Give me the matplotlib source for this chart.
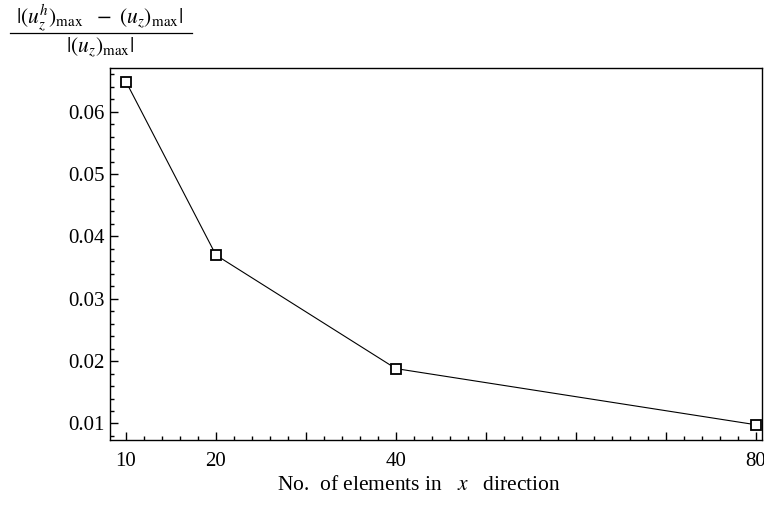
import matplotlib
matplotlib.use("Agg")
import matplotlib.pyplot as plt
from matplotlib.lines import Line2D
from matplotlib.ticker import FixedLocator, MultipleLocator, FuncFormatter

# data
n_elements = [10, 20, 40, 80]
rel_error = [0.0648, 0.0370, 0.0188, 0.0098]
x_labelled = [10, 20, 40, 80]
y_ticks = [0.01, 0.02, 0.03, 0.04, 0.05, 0.06]

plt.rcParams["font.family"] = ["Liberation Serif", "DejaVu Serif"]
plt.rcParams["mathtext.fontset"] = "stix"

fig = plt.figure(figsize=(7.64, 5.15), dpi=100)
ax = fig.add_axes([110 / 764, 1 - 440 / 515, 652 / 764, 372 / 515])

ax.plot(n_elements, rel_error, color="black", lw=0.8,
        marker="s", markersize=6.8, markerfacecolor="white",
        markeredgecolor="black", markeredgewidth=1.3)

ax.set_xlim(8.22, 80.7)
ax.set_ylim(0.00735, 0.0670)

ax.xaxis.set_major_locator(FixedLocator(list(range(10, 81, 10))))
ax.xaxis.set_major_formatter(
    FuncFormatter(lambda v, p: f"{int(round(v))}" if int(round(v)) in x_labelled else ""))
ax.xaxis.set_minor_locator(MultipleLocator(2))
ax.yaxis.set_major_locator(FixedLocator(y_ticks))
ax.yaxis.set_major_formatter(FuncFormatter(lambda v, p: f"{v:.2f}"))
ax.yaxis.set_minor_locator(MultipleLocator(0.002))

ax.tick_params(which="both", direction="in", top=False, right=False,
               labelsize=15, width=1.0)
ax.tick_params(which="major", length=6)
ax.tick_params(which="minor", length=3)
ax.tick_params(axis="x", pad=9)
ax.tick_params(axis="y", pad=4)
for s in ax.spines.values():
    s.set_linewidth(1.0)

fig.text(419 / 764, 1 - 485 / 515, r"No.  of elements in   $x$   direction",
         ha="center", va="center", fontsize=15.5)

# y label drawn as a fraction above the axes
fig.text(100 / 764, 1 - 18 / 515,
         r"$|(u_z^h)_{\mathrm{max}}\ \ -\ (u_z)_{\mathrm{max}}|$",
         ha="center", va="center", fontsize=15.5)
fig.add_artist(Line2D([10 / 764, 192 / 764], [1 - 33 / 515, 1 - 33 / 515],
                      color="black", lw=0.9, transform=fig.transFigure))
fig.text(100 / 764, 1 - 47 / 515, r"$|(u_z)_{\mathrm{max}}|$",
         ha="center", va="center", fontsize=15.5)

fig.savefig("out.png", dpi=100)
